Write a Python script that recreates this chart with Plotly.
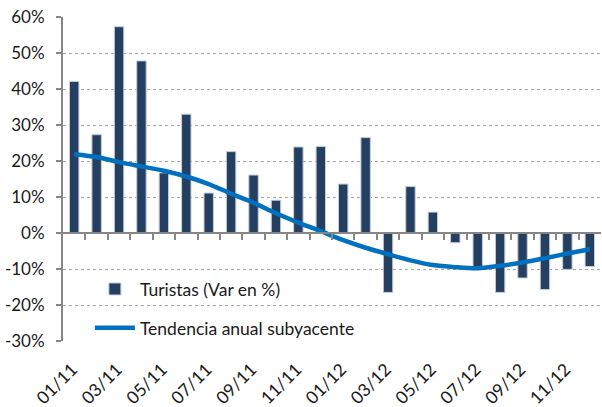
import plotly.graph_objects as go

months = ["01/11", "02/11", "03/11", "04/11", "05/11", "06/11", "07/11", "08/11",
          "09/11", "10/11", "11/11", "12/11", "01/12", "02/12", "03/12", "04/12",
          "05/12", "06/12", "07/12", "08/12", "09/12", "10/12", "11/12", "12/12"]
turistas = [42.1, 27.3, 57.3, 47.8, 16.7, 33.0, 11.1, 22.6, 16.1, 9.1, 23.9, 24.0,
            13.6, 26.5, -16.5, 12.9, 5.8, -2.7, -9.4, -16.5, -12.5, -15.7, -10.1, -9.3]
tendencia = [21.9, 21.1, 19.7, 18.5, 17.3, 15.7, 13.6, 10.9, 8.4, 5.5, 2.9, 0.5,
             -2.0, -4.1, -5.9, -7.6, -8.9, -9.5, -9.8, -9.1, -8.2, -7.0, -5.7, -4.5]
yticks = [-30, -20, -10, 0, 10, 20, 30, 40, 50, 60]

idx = list(range(len(months)))
label_idx = idx[::2]
label_txt = months[::2]
boundaries = [i + 0.5 for i in idx[:-1]]

FONT = "Lato, 'Open Sans', sans-serif"
GRID = "#A6A6A6"
AXIS = "#868686"
TXT = "#1A1A1A"

fig = go.Figure()
fig.add_trace(go.Bar(
    x=idx, y=turistas, name="Turistas (Var en %)",
    width=0.42,
    marker=dict(color="#243F60", line=dict(color="#C3CCDA", width=1)),
    legendgroup="a",
))
fig.add_trace(go.Scatter(
    x=idx, y=tendencia, name="Tendencia anual subyacente",
    mode="lines", line=dict(color="#0070C0", width=4.5, shape="spline", smoothing=0.8),
    xaxis="x2", legendgroup="b",
))

fig.update_layout(
    width=602, height=407,
    margin=dict(l=63, r=1, t=17, b=66, autoexpand=False),
    paper_bgcolor="white", plot_bgcolor="white",
    font=dict(family=FONT, size=17, color=TXT),
    showlegend=True,
    legend=dict(
        x=0.05, y=0.10, xanchor="left", yanchor="middle",
        bgcolor="rgba(0,0,0,0)", font=dict(size=17.5, color=TXT),
        traceorder="grouped", tracegroupgap=13, itemwidth=40,
    ),
    xaxis=dict(
        range=[-0.5, 23.5], tickmode="array", tickvals=label_idx, ticktext=label_txt,
        tickangle=-45, showgrid=False, zeroline=False, showline=False, ticks="",
        ticklabelstandoff=14, ticklabelshift=-2,
        tickfont=dict(size=17.5, color=TXT), automargin=False,
    ),
    xaxis2=dict(
        range=[-0.5, 23.5], overlaying="x", anchor="free", position=1/3,
        side="bottom", showline=True, linecolor=AXIS, linewidth=2,
        ticks="outside", ticklen=6, tickwidth=1.5, tickcolor=AXIS,
        tickmode="array", tickvals=boundaries, showticklabels=False,
        showgrid=False, zeroline=False, automargin=False,
    ),
    yaxis=dict(
        range=[-30, 60], tickmode="array", tickvals=yticks,
        ticktext=[f"{v}%" for v in yticks],
        showgrid=True, gridcolor=GRID, gridwidth=1, griddash="dot",
        zeroline=False, showline=True, linecolor=AXIS, linewidth=2,
        ticks="outside", ticklen=5, tickwidth=1.5, tickcolor=AXIS,
        ticklabelstandoff=8, automargin=False,
        tickfont=dict(size=17, color=TXT),
    ),
)

fig.write_html("out.html", config={"displayModeBar": False},
               post_script="document.body.style.margin='0';")
